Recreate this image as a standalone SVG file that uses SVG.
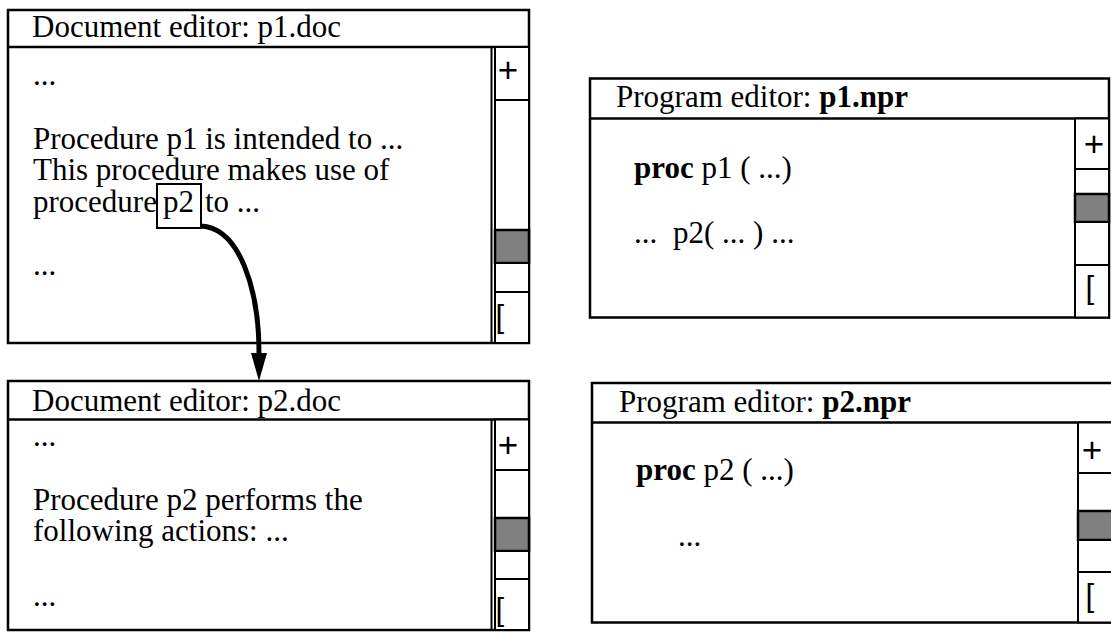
<svg xmlns="http://www.w3.org/2000/svg" width="1111" height="633" viewBox="0 0 1111 633">
  <style>
    .frame { fill: #fff; stroke: #000; stroke-width: 2.5; }
    .bar { fill: #fff; stroke: #000; stroke-width: 2; }
    .rule { stroke: #000; stroke-width: 2.5; }
    .edge { stroke: #000; stroke-width: 2; }
    .thumb { fill: #808080; stroke: #000; stroke-width: 2.5; }
    .txt { font-family: "Liberation Serif", "Times New Roman", serif; font-size: 31px; fill: #000; }
    .b { font-weight: bold; }
    .plus { font-family: "Liberation Sans", Arial, sans-serif; font-size: 35px; fill: #000; text-anchor: middle; }
    .brk { font-family: "Liberation Sans", Arial, sans-serif; font-size: 31px; fill: #000; }
    .link { fill: none; stroke: #000; stroke-width: 5; }
  </style>
  <defs>
    <marker id="head" markerUnits="userSpaceOnUse" viewBox="0 0 28 16" refX="0" refY="8" markerWidth="28" markerHeight="16" orient="auto">
      <path d="M0,0 L28,8 L0,16 z" fill="#000"/>
    </marker>
  </defs>

  <rect width="1111" height="633" fill="#fff"/>

  <!-- Document editor: p1.doc -->
  <g id="doc-p1">
    <rect class="frame" x="8" y="10" width="521" height="333"/>
    <line class="rule" x1="8" y1="47" x2="529" y2="47"/>
    <line class="edge" x1="491.5" y1="47" x2="491.5" y2="343"/>
    <rect class="bar" x="495" y="47" width="34" height="53"/>
    <rect class="bar" x="495" y="100" width="34" height="130"/>
    <rect class="thumb" x="495" y="230" width="34" height="33"/>
    <rect class="bar" x="495" y="263" width="34" height="29"/>
    <rect class="bar" x="495" y="292" width="34" height="51"/>
    <text class="plus" x="508" y="82">+</text>
    <text class="brk" x="495.5" y="327">[</text>
    <text class="txt" x="32" y="37">Document editor: p1.doc</text>
    <text class="txt" x="33" y="85">...</text>
    <text class="txt" x="33" y="149">Procedure p1 is intended to ...</text>
    <text class="txt" x="33" y="180">This procedure makes use of</text>
    <text class="txt" x="33" y="212">procedure <tspan x="163">p2</tspan> <tspan x="205">to ...</tspan></text>
    <rect x="157" y="184" width="44" height="44" fill="none" stroke="#000" stroke-width="2"/>
    <text class="txt" x="33" y="275">...</text>
  </g>

  <!-- Document editor: p2.doc -->
  <g id="doc-p2">
    <rect class="frame" x="8" y="381" width="521" height="249"/>
    <line class="rule" x1="8" y1="419.5" x2="529" y2="419.5"/>
    <line class="edge" x1="491.5" y1="419.5" x2="491.5" y2="630"/>
    <rect class="bar" x="495" y="419.5" width="34" height="50.5"/>
    <rect class="bar" x="495" y="470" width="34" height="48"/>
    <rect class="thumb" x="495" y="518" width="34" height="33"/>
    <rect class="bar" x="495" y="551" width="34" height="28"/>
    <rect class="bar" x="495" y="579" width="34" height="51"/>
    <text class="plus" x="508" y="457">+</text>
    <text class="brk" x="495.5" y="620">[</text>
    <text class="txt" x="32" y="411">Document editor: p2.doc</text>
    <text class="txt" x="33" y="446">...</text>
    <text class="txt" x="33" y="510">Procedure p2 performs the</text>
    <text class="txt" x="33" y="541">following actions: ...</text>
    <text class="txt" x="33" y="606">...</text>
  </g>

  <!-- Program editor: p1.npr -->
  <g id="prog-p1">
    <rect class="frame" x="590" y="78.5" width="519" height="239"/>
    <line class="rule" x1="590" y1="118.5" x2="1109" y2="118.5"/>
    <rect class="bar" x="1075" y="118.5" width="34" height="50.5"/>
    <rect class="bar" x="1075" y="169" width="34" height="25"/>
    <rect class="thumb" x="1075" y="194" width="34" height="28"/>
    <rect class="bar" x="1075" y="222" width="34" height="43"/>
    <rect class="bar" x="1075" y="265" width="34" height="52.5"/>
    <text class="plus" x="1094" y="156">+</text>
    <text class="brk" x="1085.5" y="298">[</text>
    <text class="txt" x="616" y="107">Program editor: <tspan class="b">p1.npr</tspan></text>
    <text class="txt" x="634" y="178"><tspan class="b">proc</tspan> p1 ( ...)</text>
    <text class="txt" x="634" y="243">... <tspan x="673">p2( ... ) ...</tspan></text>
  </g>

  <!-- Program editor: p2.npr -->
  <g id="prog-p2">
    <rect class="frame" x="592" y="383" width="530" height="239.5"/>
    <line class="rule" x1="592" y1="422.5" x2="1122" y2="422.5"/>
    <rect class="bar" x="1078" y="422.5" width="44" height="50.5"/>
    <rect class="bar" x="1078" y="473" width="44" height="38"/>
    <rect class="thumb" x="1078" y="511" width="44" height="29"/>
    <rect class="bar" x="1078" y="540" width="44" height="32"/>
    <rect class="bar" x="1078" y="572" width="44" height="50.5"/>
    <text class="plus" x="1092" y="462">+</text>
    <text class="brk" x="1085.5" y="606">[</text>
    <text class="txt" x="619" y="412">Program editor: <tspan class="b">p2.npr</tspan></text>
    <text class="txt" x="636" y="480"><tspan class="b">proc</tspan> p2 ( ...)</text>
    <text class="txt" x="678" y="546">...</text>
  </g>

  <!-- cross-reference link from p2 in p1.doc to p2.doc -->
  <g id="connectors">
    <path class="link" d="M201,226 C240,228 259,290 259,353" marker-end="url(#head)"/>
  </g>
</svg>
